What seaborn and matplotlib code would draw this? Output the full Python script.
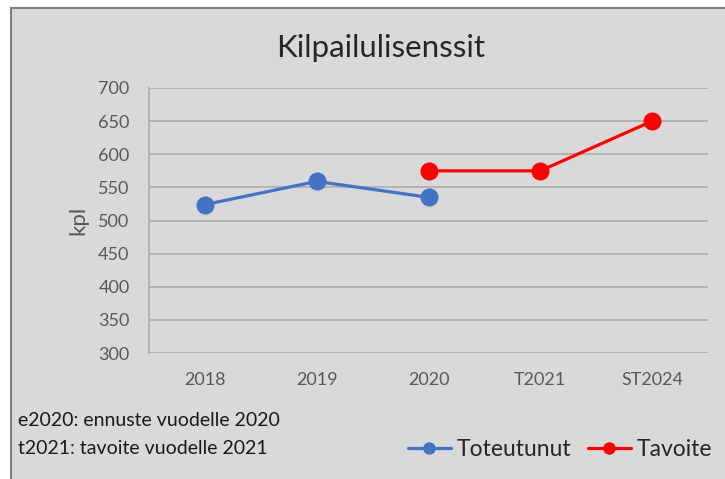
import matplotlib
matplotlib.use("Agg")
import matplotlib.pyplot as plt
from matplotlib.patches import Rectangle
from matplotlib.lines import Line2D
import seaborn as sns
import pandas as pd
import numpy as np

categories = ["2018", "2019", "2020", "T2021", "ST2024"]
toteutunut = [524, 559, 535, None, None]
tavoite = [None, None, 575, 575, 650]
yticks = [300, 350, 400, 450, 500, 550, 600, 650, 700]
title = "Kilpailulisenssit"
ylabel = "kpl"
notes = ["e2020: ennuste vuodelle 2020", "t2021: tavoite vuodelle 2021"]
series_names = ["Toteutunut", "Tavoite"]
colors = ["#4472C4", "#FF0000"]

sns.set_style("white")
plt.rcParams["font.family"] = ["Lato", "DejaVu Sans"]

rows = []
for name, vals in zip(series_names, [toteutunut, tavoite]):
    for i, v in enumerate(vals):
        if v is not None:
            rows.append({"pos": i, "value": v, "series": name})
df = pd.DataFrame(rows)

bg = "#d9d9d9"
fig = plt.figure(figsize=(7.25, 4.79), dpi=100)
fig.patch.set_facecolor("white")
fig.patches.append(Rectangle((11 / 725, -0.01), 1.0, (479 - 7.5) / 479 + 0.01,
                             transform=fig.transFigure, facecolor=bg,
                             edgecolor="#7f7f7f", linewidth=1.5, zorder=-10))

ax = fig.add_axes([149 / 725, (479 - 353) / 479, (708 - 149) / 725, (353 - 88) / 479])
ax.set_facecolor(bg)

sns.lineplot(data=df, x="pos", y="value", hue="series", hue_order=series_names,
             palette=colors, marker="o", markersize=13, markeredgewidth=0,
             linewidth=2.3, ax=ax, legend=False, sort=False, zorder=3)

ax.set_xlim(-0.5, len(categories) - 0.5)
ax.set_ylim(yticks[0], yticks[-1])
ax.set_yticks(yticks)
ax.set_xticks(range(len(categories)))
ax.set_xticklabels(categories)
ax.tick_params(axis="both", length=0, labelsize=13, labelcolor="#595959")
ax.tick_params(axis="x", pad=14)
ax.tick_params(axis="y", pad=14)
ax.yaxis.grid(True, color="#b0b0b0", linewidth=1.3)
ax.set_axisbelow(True)
for s in ["top", "right", "bottom"]:
    ax.spines[s].set_visible(False)
ax.spines["left"].set_color("#b0b0b0")
ax.spines["left"].set_linewidth(1.3)
ax.set_xlabel("")
ax.set_ylabel(ylabel, fontsize=16, color="#595959", labelpad=7)

fig.text(381 / 725, (479 - 48) / 479, title, ha="center", va="center",
         fontsize=22.5, color="#262626")

fig.text(18 / 725, (479 - 421) / 479, notes[0], ha="left", va="center",
         fontsize=14, color="#1a1a1a")
fig.text(18 / 725, (479 - 448) / 479, notes[1], ha="left", va="center",
         fontsize=14, color="#1a1a1a")

handles = [Line2D([0], [0], color=c, marker="o", markersize=9, linewidth=2.3,
                  markeredgewidth=0) for c in colors]
fig.legend(handles, series_names, loc="center", bbox_to_anchor=(560 / 725, (479 - 450) / 479),
           ncol=2, frameon=False, fontsize=16.5, handlelength=1.9, handletextpad=0.25,
           columnspacing=0.7, labelcolor="#262626", borderpad=0.2)

fig.savefig("out.png", dpi=100, facecolor=fig.get_facecolor())
